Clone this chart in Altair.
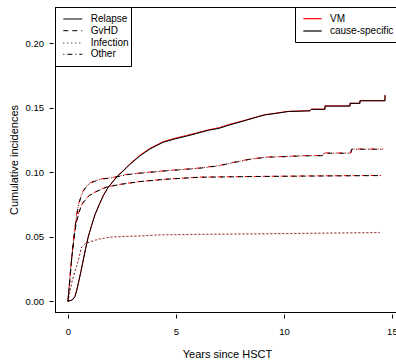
import altair as alt
import pandas as pd

# ---- data (years since HSCT, cumulative incidence) ----
relapse_t = [0, 0.1, 0.2, 0.32, 0.4, 0.48, 0.6, 0.71, 0.82, 0.94, 1.1, 1.25, 1.45, 1.64, 1.85, 2.1, 2.3,
             2.56, 2.87, 3.33, 3.8, 4.41, 5.0, 5.5, 5.96, 6.5, 7.0, 7.5, 8.1, 8.81, 9.12, 9.6, 10.2,
             11.2, 11.28, 11.9, 11.9, 13.06, 13.06, 13.52, 13.52, 14.68, 14.68]
relapse_cs = [0, 0.0005, 0.001, 0.0036, 0.008, 0.014, 0.023, 0.032, 0.041, 0.050, 0.059, 0.067, 0.075,
              0.082, 0.088, 0.093, 0.097, 0.101, 0.106, 0.1126, 0.118, 0.1232, 0.126, 0.128, 0.130,
              0.1325, 0.134, 0.1367, 0.1395, 0.143, 0.1444, 0.1455, 0.147, 0.1475, 0.1487, 0.1487,
              0.1512, 0.1512, 0.1533, 0.1533, 0.1553, 0.1553, 0.1597]
relapse_vm = [0, 0.0005, 0.001, 0.0036, 0.008, 0.014, 0.023, 0.032, 0.041, 0.050, 0.059, 0.067, 0.075,
              0.082, 0.088, 0.0933, 0.0973, 0.1013, 0.1065, 0.1131, 0.1185, 0.1237, 0.1265, 0.1285,
              0.1305, 0.1328, 0.1345, 0.1372, 0.1398, 0.1432, 0.1446, 0.1457, 0.1472, 0.1477, 0.1489,
              0.1489, 0.1514, 0.1514, 0.1535, 0.1535, 0.1555, 0.1555, 0.1597]

gvhd_t = [0, 0.03, 0.08, 0.13, 0.18, 0.24, 0.3, 0.36, 0.42, 0.5, 0.6, 0.71, 0.85, 1.0, 1.2, 1.5, 1.8,
          2.4, 3.33, 4.5, 6.1, 8.43, 11.0, 14.5]
gvhd_cs = [0, 0.006, 0.015, 0.025, 0.034, 0.043, 0.051, 0.058, 0.063, 0.068, 0.073, 0.0765, 0.0795,
           0.082, 0.084, 0.0865, 0.0885, 0.0905, 0.0927, 0.0945, 0.0961, 0.0966, 0.097, 0.0974]
gvhd_vm = [0, 0.006, 0.016, 0.026, 0.035, 0.044, 0.052, 0.059, 0.064, 0.069, 0.0735, 0.077, 0.0798,
           0.0822, 0.0842, 0.0866, 0.0886, 0.0906, 0.0928, 0.0946, 0.0962, 0.0967, 0.0971, 0.0975]

inf_t = [0, 0.05, 0.1, 0.17, 0.25, 0.32, 0.4, 0.5, 0.63, 0.8, 1.02, 1.4, 1.94, 2.6, 3.33, 4.26, 6.0,
         8.9, 11.5, 14.44]
inf_cs = [0, 0.004, 0.008, 0.014, 0.019, 0.023, 0.027, 0.033, 0.042, 0.0445, 0.046, 0.048, 0.0496,
          0.0502, 0.0506, 0.0514, 0.0518, 0.0522, 0.0527, 0.0532]
inf_vm = [0, 0.004, 0.008, 0.014, 0.019, 0.023, 0.027, 0.033, 0.042, 0.0447, 0.0462, 0.0482, 0.0497,
          0.0503, 0.0507, 0.0515, 0.0519, 0.0523, 0.0528, 0.0533]

oth_t = [0, 0.03, 0.08, 0.13, 0.18, 0.24, 0.3, 0.36, 0.42, 0.5, 0.6, 0.7, 0.82, 0.95, 1.17, 1.5, 2.1,
         2.7, 3.33, 4.5, 5.3, 6.1, 7.0, 7.65, 8.43, 9.2, 10.0, 10.74, 11.8, 11.82, 13.1, 13.13, 14.6]
oth_cs = [0, 0.006, 0.015, 0.025, 0.034, 0.044, 0.053, 0.061, 0.068, 0.075, 0.081, 0.085, 0.088,
          0.0905, 0.0925, 0.0945, 0.0958, 0.098, 0.0992, 0.101, 0.102, 0.1031, 0.105, 0.1074, 0.110,
          0.1116, 0.112, 0.1126, 0.1128, 0.1147, 0.1147, 0.1178, 0.1178]
oth_vm = [0, 0.006, 0.016, 0.026, 0.035, 0.045, 0.054, 0.062, 0.069, 0.076, 0.0815, 0.0855, 0.0885,
          0.091, 0.093, 0.0948, 0.096, 0.0982, 0.0994, 0.1012, 0.1022, 0.1033, 0.1052, 0.1076,
          0.1102, 0.1118, 0.1122, 0.1128, 0.113, 0.1149, 0.1149, 0.118, 0.118]

causes = ["Relapse", "GvHD", "Infection", "Other"]
methods = ["VM", "cause-specific"]
y_ticks = [0.0, 0.05, 0.10, 0.15, 0.20]
x_ticks = [0, 5, 10, 15]

series = {
    ("Relapse", "VM"): (relapse_t, relapse_vm),
    ("Relapse", "cause-specific"): (relapse_t, relapse_cs),
    ("GvHD", "VM"): (gvhd_t, gvhd_vm),
    ("GvHD", "cause-specific"): (gvhd_t, gvhd_cs),
    ("Infection", "VM"): (inf_t, inf_vm),
    ("Infection", "cause-specific"): (inf_t, inf_cs),
    ("Other", "VM"): (oth_t, oth_vm),
    ("Other", "cause-specific"): (oth_t, oth_cs),
}

# ---- styling ----
FONT = "Liberation Sans"
W, H = 341, 305
dash = {"Relapse": None, "GvHD": [5, 4], "Infection": [1, 3], "Other": [1, 3, 5, 3]}
dash_off = {"Relapse": 0, "GvHD": 2, "Infection": 1, "Other": 2}
col = {"VM": "#ff0000", "cause-specific": "#000000"}

xscale = alt.Scale(domain=[-0.6, 15.19], nice=False, zero=False)
yscale = alt.Scale(domain=[-0.0083, 0.228], nice=False, zero=False)

xaxis = alt.Axis(values=x_ticks, format="d", title="Years since HSCT", grid=False, domain=False,
                 tickSize=4, offset=2, labelPadding=8, labelFontSize=9.5, labelFont=FONT,
                 labelColor="black", tickColor="black", titleFont=FONT, titleFontSize=11,
                 titleFontWeight="normal", titleColor="black", titleX=172, titleY=43.3,
                 titleAlign="center", titleBaseline="alphabetic", labelFlush=False)
yaxis = alt.Axis(values=y_ticks, format=".2f", title="Cumulative incidences", grid=False,
                 domain=False, tickSize=4, offset=2, labelPadding=5.5, labelFontSize=9.5,
                 labelFont=FONT, labelColor="black", tickColor="black", titleFont=FONT,
                 titleFontSize=11, titleFontWeight="normal", titleColor="black", titleAngle=270,
                 titleX=-36, titleY=152.5, titleAlign="center", titleBaseline="alphabetic",
                 labelFlush=False)

layers = []
for m in methods:
    for c in causes:
        t, v = series[(c, m)]
        df = pd.DataFrame({"t": t, "v": v, "i": list(range(len(t)))})
        kw = dict(interpolate="linear", color=col[m], strokeWidth=1)
        if dash[c] is not None:
            kw["strokeDash"] = dash[c]
            kw["strokeDashOffset"] = dash_off[c] if m == "VM" else 0
        layers.append(alt.Chart(df).mark_line(**kw).encode(
            x=alt.X("t:Q", scale=xscale, axis=xaxis),
            y=alt.Y("v:Q", scale=yscale, axis=yaxis),
            order=alt.Order("i:Q"),
        ))

# ---- plot box (left, top, bottom; right edge falls outside the window) ----
layers.append(alt.Chart().mark_rule(color="black", strokeWidth=1).encode(
    x=alt.value(0.5), y=alt.value(0), y2=alt.value(H + 0.5)))
layers.append(alt.Chart().mark_rule(color="black", strokeWidth=1).encode(
    x=alt.value(0), x2=alt.value(W + 10), y=alt.value(0.5)))
layers.append(alt.Chart().mark_rule(color="black", strokeWidth=1).encode(
    x=alt.value(0), x2=alt.value(W + 10), y=alt.value(H + 0.5)))

# ---- left legend (line types) ----
layers.append(alt.Chart().mark_rect(fill="white", stroke="black", strokeWidth=1).encode(
    x=alt.value(0.5), x2=alt.value(76.5), y=alt.value(0.5), y2=alt.value(59.5)))
row_y = [12, 23.7, 36, 47.3]
for c, ry in zip(causes, row_y):
    kw = dict(color="black", strokeWidth=1)
    if dash[c] is not None:
        kw["strokeDash"] = dash[c]
    layers.append(alt.Chart().mark_rule(**kw).encode(
        x=alt.value(8.3), x2=alt.value(27.3), y=alt.value(ry)))
    layers.append(alt.Chart().mark_text(align="left", baseline="middle", font=FONT, fontSize=10,
                                        color="black").encode(
        x=alt.value(35.7), y=alt.value(ry), text=alt.value(c)))

# ---- right legend (methods) ----
layers.append(alt.Chart().mark_rect(fill="white", stroke="black", strokeWidth=1).encode(
    x=alt.value(240.5), x2=alt.value(400), y=alt.value(0.5), y2=alt.value(35.5)))
for m, ry in zip(methods, [11.7, 24]):
    layers.append(alt.Chart().mark_rule(color=col[m], strokeWidth=1.2).encode(
        x=alt.value(248.3), x2=alt.value(266.7), y=alt.value(ry)))
    layers.append(alt.Chart().mark_text(align="left", baseline="middle", font=FONT, fontSize=10,
                                        color="black").encode(
        x=alt.value(275), y=alt.value(ry), text=alt.value(m)))

chart = alt.layer(*layers).properties(
    width=W, height=H,
    autosize=alt.AutoSizeParams(type="none"),
    padding={"left": 55, "top": 7, "right": 0, "bottom": 48},
    background="white",
).configure_view(stroke=None)

chart.save("out.html", embed_options={"renderer": "svg", "actions": False})
